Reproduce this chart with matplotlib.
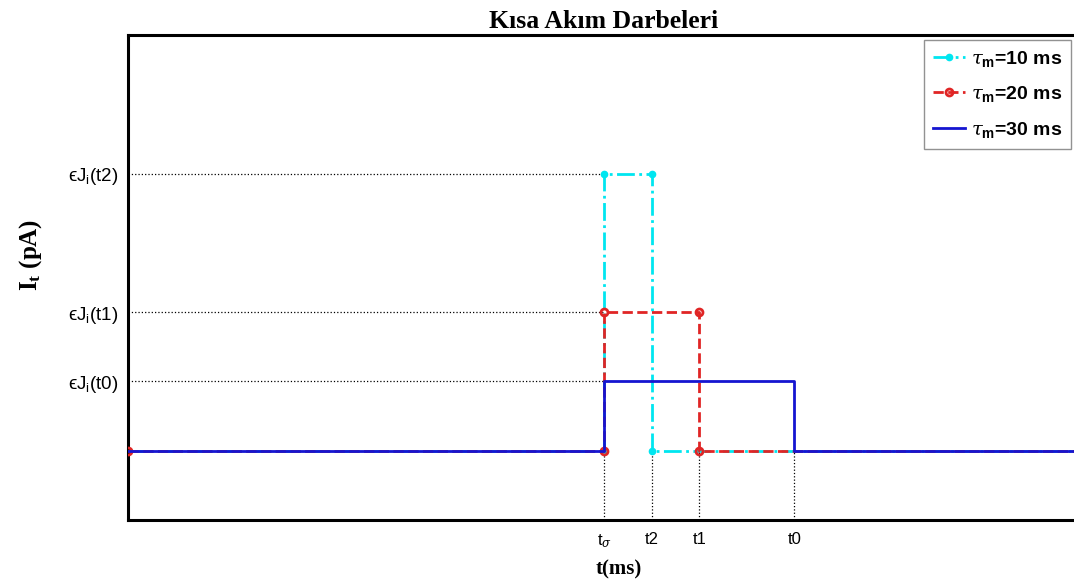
import numpy as np
import matplotlib
matplotlib.use("Agg")
import matplotlib.pyplot as plt

# Event times (ms) and current levels
t_sigma, t2, t1, t0 = 10, 11, 12, 14
t_end = 20
J0, J1, J2 = 1, 2, 4

# Pulse series (x in ms, y in level units)
x_10 = [0, t_sigma, t_sigma, t2, t2, t_end]
y_10 = [0, 0, J2, J2, 0, 0]
x_20 = [0, t_sigma, t_sigma, t1, t1, t_end]
y_20 = [0, 0, J1, J1, 0, 0]
x_30 = [0, t_sigma, t_sigma, t0, t0, t_end]
y_30 = [0, 0, J0, J0, 0, 0]

xtick_pos = [t_sigma, t2, t1, t0]
xtick_labels = [r'$\mathregular{t}_{\sigma}$', 't2', 't1', 't0']
ytick_pos = [J0, J1, J2]
ytick_labels = [r'$\mathrm{ϵJ}_\mathregular{i}\mathregular{(t0)}$',
                r'$\mathrm{ϵJ}_\mathregular{i}\mathregular{(t1)}$',
                r'$\mathrm{ϵJ}_\mathregular{i}\mathregular{(t2)}$']

plt.rcParams['font.family'] = ['Liberation Sans', 'DejaVu Sans']
plt.rcParams['mathtext.fontset'] = 'custom'
plt.rcParams['mathtext.rm'] = 'Liberation Sans'
plt.rcParams['mathtext.it'] = 'DejaVu Serif:italic'
plt.rcParams['mathtext.bf'] = 'Liberation Sans:bold'
plt.rcParams['mathtext.fallback'] = 'cm'

fig = plt.figure(figsize=(10.74, 5.82), dpi=100)
ax = fig.add_axes([128 / 1074, 62 / 582, 952 / 1074, 485 / 582])

# guide lines
for yv in ytick_pos:
    ax.plot([0, t_sigma], [yv, yv], color='black', linestyle=':', linewidth=0.9, zorder=1)
for xv in xtick_pos:
    ax.plot([xv, xv], [-1, 0], color='black', linestyle=':', linewidth=0.9, zorder=1)

ax.plot(x_10, y_10, color='#00e6f0', linestyle='-.', linewidth=2, marker='.',
        markersize=9, label=r'$\tau_{\mathbf{m}}$=10 ms', zorder=2)
ax.plot(x_20, y_20, color='#e02525', linestyle='--', linewidth=2, marker='o',
        markersize=5, markerfacecolor='none', markeredgewidth=2,
        label=r'$\tau_{\mathbf{m}}$=20 ms', zorder=3)
ax.plot(x_30, y_30, color='#1515d0', linestyle='-', linewidth=2,
        label=r'$\tau_{\mathbf{m}}$=30 ms', zorder=4)

ax.set_xlim(0, t_end)
ax.set_ylim(-1, 6)
ax.set_xticks(xtick_pos)
ax.set_xticklabels(xtick_labels, fontsize=12)
ax.set_yticks(ytick_pos)
ax.set_yticklabels(ytick_labels, fontsize=13.5)
ax.tick_params(axis='y', length=0, pad=7)
ax.tick_params(axis='x', length=0, pad=9)

for s in ax.spines.values():
    s.set_linewidth(2.2)

ax.set_title('Kısa Akım Darbeleri', fontsize=18.5, fontweight='bold',
             family='Liberation Serif', pad=5)
ax.set_xlabel('t(ms)', fontsize=15, fontweight='bold', family='Liberation Serif')
ax.xaxis.set_label_coords((619 - 128) / 952, -(559 - 520) / 485)
ax.set_ylabel(r'I$_\mathregular{t}$ (pA)', fontsize=18, fontweight='bold',
              family='Liberation Serif')
ax.yaxis.set_label_coords(-(128 - 44) / 952, (520 - 255) / 485)

leg = ax.legend(loc='upper right', bbox_to_anchor=(1071 / 1074, 1 - 40 / 582),
                bbox_transform=fig.transFigure, borderaxespad=0,
                prop={'weight': 'bold', 'size': 14}, fancybox=False,
                edgecolor='#777777', handlelength=1.65, handletextpad=0.3,
                labelspacing=0.8, borderpad=0.45)
leg.get_frame().set_linewidth(1.0)

fig.savefig('out.png', dpi=100)
